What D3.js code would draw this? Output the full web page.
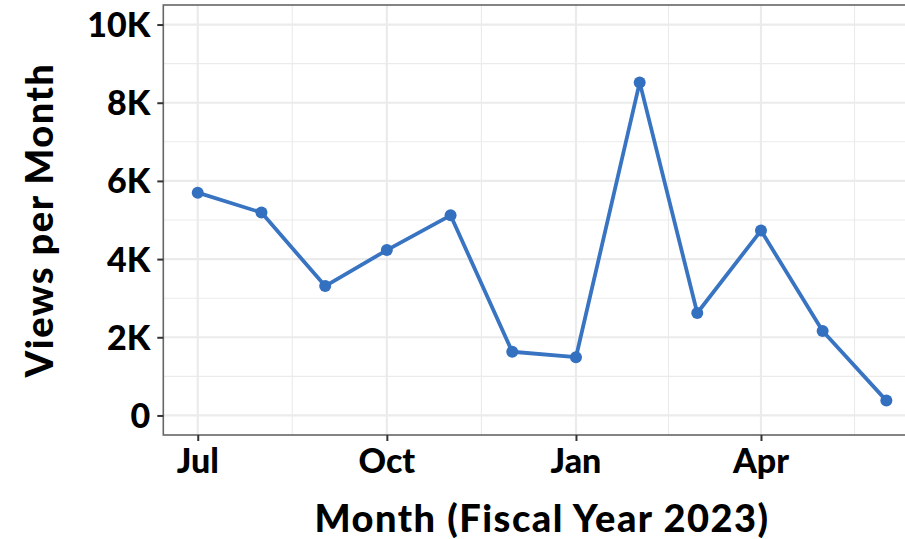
<!DOCTYPE html>
<html>
<head>
  <title>Views per Month - Fiscal Year 2023</title>
  <style>
    body {
      margin: 0;
      padding: 0;
      background-color: white;
      font-family: Lato, "Open Sans", sans-serif;
    }

    #chart svg {
      display: block;
    }

    .tick-label {
      font-size: 34px;
      font-weight: 900;
      fill: black;
    }

    /* titles are a touch wider in the original, so space the letters out */
    .axis-title {
      font-size: 38px;
      font-weight: 900;
      fill: black;
      letter-spacing: 1.5px;
    }
  </style>
</head>
<body>
  <div id="chart"></div>

  <script src="https://d3js.org/d3.v7.min.js"></script>
  <script>
    // Data: first day of each month of fiscal year 2023 and the views counted that month
    const months = [
      "2022-07-01", "2022-08-01", "2022-09-01", "2022-10-01", "2022-11-01", "2022-12-01",
      "2023-01-01", "2023-02-01", "2023-03-01", "2023-04-01", "2023-05-01", "2023-06-01"
    ];
    const views = [5700, 5190, 3310, 4230, 5120, 1630, 1490, 8520, 2620, 4730, 2160, 380];

    // Tick positions and labels
    const xTickDates = ["2022-07-01", "2022-10-01", "2023-01-01", "2023-04-01"];
    const xTickLabels = ["Jul", "Oct", "Jan", "Apr"];
    const yTicks = [0, 2000, 4000, 6000, 8000, 10000];
    const yTickLabels = ["0", "2K", "4K", "6K", "8K", "10K"];
    const yLimits = [0, 10000];

    // Set up the SVG dimensions (the panel runs past the right edge, as in the original)
    const margin = { top: 5, left: 163.3 };
    const width = 757.5;
    const height = 430;

    const svg = d3
      .select("#chart")
      .append("svg")
      .attr("width", 905)
      .attr("height", 539);

    const g = svg
      .append("g")
      .attr("transform", `translate(${margin.left},${margin.top})`);

    const dates = months.map((d) => new Date(d));
    const tickDates = xTickDates.map((d) => new Date(d));

    // x scale: UTC time with a 5% expansion on each side
    const xMin = d3.min(dates), xMax = d3.max(dates);
    const xPad = (xMax - xMin) * 0.05;
    const x = d3
      .scaleUtc()
      .domain([new Date(+xMin - xPad), new Date(+xMax + xPad)])
      .range([0, width]);

    // y scale: limits 0..10K with a 5% expansion
    const yPad = (yLimits[1] - yLimits[0]) * 0.05;
    const y = d3
      .scaleLinear()
      .domain([yLimits[0] - yPad, yLimits[1] + yPad])
      .range([height, 0]);

    // minor breaks sit halfway between the major ones
    const yMinor = [];
    for (let i = 0; i < yTicks.length - 1; i++) {
      yMinor.push((yTicks[i] + yTicks[i + 1]) / 2);
    }
    const xMajorExt = [d3.utcMonth.offset(tickDates[0], -3), ...tickDates, d3.utcMonth.offset(tickDates[tickDates.length - 1], 3)];
    const xMinor = [];
    for (let i = 0; i < xMajorExt.length - 1; i++) {
      xMinor.push(new Date((+xMajorExt[i] + +xMajorExt[i + 1]) / 2));
    }
    const xMinorIn = xMinor.filter((d) => d >= x.domain()[0] && d <= x.domain()[1]);

    // Grid lines
    g.selectAll(".grid-minor-y")
      .data(yMinor)
      .enter()
      .append("line")
      .attr("x1", 0)
      .attr("x2", width)
      .attr("y1", (d) => y(d))
      .attr("y2", (d) => y(d))
      .attr("stroke", "#ebebeb")
      .attr("stroke-width", 1.1);

    g.selectAll(".grid-minor-x")
      .data(xMinorIn)
      .enter()
      .append("line")
      .attr("x1", (d) => x(d))
      .attr("x2", (d) => x(d))
      .attr("y1", 0)
      .attr("y2", height)
      .attr("stroke", "#ebebeb")
      .attr("stroke-width", 1.1);

    g.selectAll(".grid-major-y")
      .data(yTicks)
      .enter()
      .append("line")
      .attr("x1", 0)
      .attr("x2", width)
      .attr("y1", (d) => y(d))
      .attr("y2", (d) => y(d))
      .attr("stroke", "#ebebeb")
      .attr("stroke-width", 2.2);

    g.selectAll(".grid-major-x")
      .data(tickDates)
      .enter()
      .append("line")
      .attr("x1", (d) => x(d))
      .attr("x2", (d) => x(d))
      .attr("y1", 0)
      .attr("y2", height)
      .attr("stroke", "#ebebeb")
      .attr("stroke-width", 2.2);

    // The line and points
    const line = d3
      .line()
      .x((d, i) => x(dates[i]))
      .y((d) => y(d));

    g.append("path")
      .datum(views)
      .attr("fill", "none")
      .attr("stroke", "#3874c2")
      .attr("stroke-width", 3.8)
      .attr("stroke-linejoin", "round")
      .attr("d", line);

    g.selectAll(".dot")
      .data(views)
      .enter()
      .append("circle")
      .attr("class", "dot")
      .attr("cx", (d, i) => x(dates[i]))
      .attr("cy", (d) => y(d))
      .attr("r", 6)
      .attr("fill", "#3470c0");

    // Panel border
    g.append("rect")
      .attr("x", 0)
      .attr("y", 0)
      .attr("width", width)
      .attr("height", height)
      .attr("fill", "none")
      .attr("stroke", "#666666")
      .attr("stroke-width", 1.6);

    // Axes (ticks only, labels drawn below)
    const xAxis = d3.axisBottom(x).tickValues(tickDates).tickSize(6).tickFormat("");
    const yAxis = d3.axisLeft(y).tickValues(yTicks).tickSize(6).tickFormat("");

    const gx = g.append("g")
      .attr("transform", `translate(0,${height})`)
      .call(xAxis);
    const gy = g.append("g").call(yAxis);

    [gx, gy].forEach((a) => {
      a.select(".domain").remove();
      a.selectAll(".tick line").attr("stroke", "#333333").attr("stroke-width", 2);
    });

    // Tick labels
    g.selectAll(".x-label")
      .data(tickDates)
      .enter()
      .append("text")
      .attr("class", "tick-label")
      .attr("x", (d) => x(d))
      .attr("y", height + 38)
      .attr("text-anchor", "middle")
      .text((d, i) => xTickLabels[i]);

    g.selectAll(".y-label")
      .data(yTicks)
      .enter()
      .append("text")
      .attr("class", "tick-label")
      .attr("x", -13)
      .attr("y", (d) => y(d) + 12.5)
      .attr("text-anchor", "end")
      .text((d, i) => yTickLabels[i]);

    // Axis titles
    g.append("text")
      .attr("class", "axis-title")
      .attr("x", width / 2)
      .attr("y", 527)
      .attr("text-anchor", "middle")
      .text("Month (Fiscal Year 2023)");

    g.append("text")
      .attr("class", "axis-title")
      .attr("transform", `translate(${53.3 - margin.left},${height / 2}) rotate(-90)`)
      .attr("text-anchor", "middle")
      .text("Views per Month");
  </script>
</body>
</html>
